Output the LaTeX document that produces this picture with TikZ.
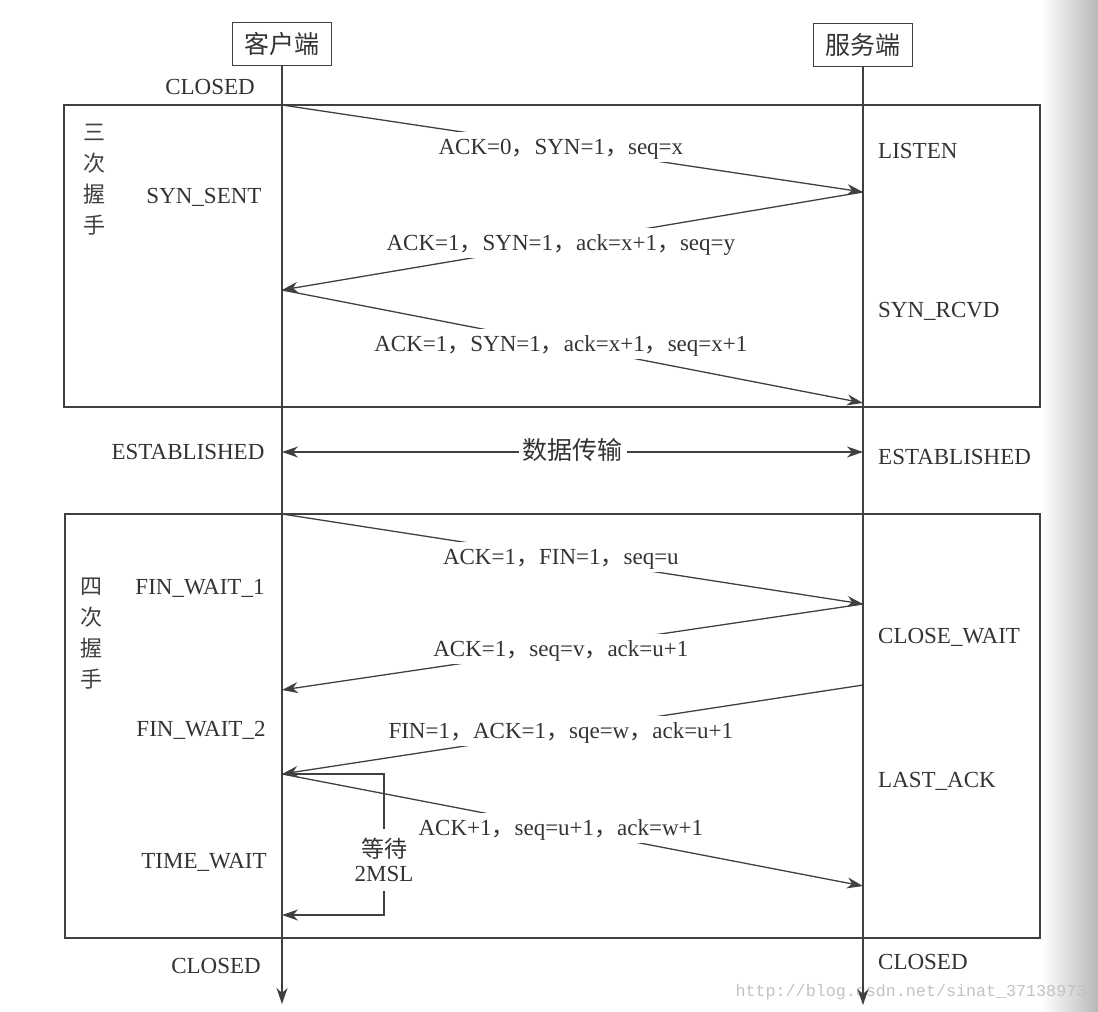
\documentclass[tikz,border=0pt]{standalone}
\usepackage{fontspec}
\setmainfont{Liberation Serif}
\setmonofont{Liberation Mono}
\newfontfamily\cjk{Noto Sans CJK SC}
\usetikzlibrary{arrows.meta, positioning, calc}
\tikzset{line/.style = {draw=black!75, line width=1.3pt}}
\tikzset{msg/.style = {
  % Line:
  line,
  ->,
  >={Stealth[length=16pt,width=11pt,inset=5pt]}
  }}
\tikzset{frame/.style = {draw=black!75, line width=1.3pt}}
\tikzset{party/.style = {
  % Rectangle:
  frame,
  minimum width=99pt, minimum height=43pt,
  % Text
  font=\cjk\fontsize{25}{30}\selectfont, text=black!80
  }}
\tikzset{state/.style = {
  inner sep=0pt,
  font=\fontsize{23}{28}\selectfont, text=black!80
  }}
\tikzset{lbl/.style = {
  % Rectangle:
  fill=white,
  inner xsep=2pt, inner ysep=4.5pt,
  % Text
  text height=18pt, text depth=3pt,
  font=\fontsize{23}{28}\selectfont, text=black!80
  }}
\tikzset{phase/.style = {
  align=center,
  font=\cjk\fontsize{22}{31}\selectfont, text=black!75
  }}
\newcommand{\zc}{{\cjk ，}}

\begin{document}
\begin{tikzpicture}[x=1pt, y=-1pt]
% BACKGROUND
\useasboundingbox (0,0) rectangle (1098,1012);
\shade [left color=white, right color=black!28] (1042,0) rectangle (1098,1012);
\node (mark) [font=\ttfamily\fontsize{16.7}{20}\selectfont, text=black!24] at (911,992) {http://blog.csdn.net/sinat\_37138973};

% NODES
\node (client) [party] at (282,44) {客户端};
\node (server) [party] at (863,45) {服务端};

% frames
\draw [frame] (64,105) rectangle (1040,407);
\draw [frame] (65,514) rectangle (1040,938);
\node (three) [phase] at (94,180) {三\\次\\握\\手};
\node (four) [phase] at (91,634) {四\\次\\握\\手};

% points on the lifelines
\coordinate (c1) at (282,105);
\coordinate (c2) at (282,290);
\coordinate (cEst) at (282,452);
\coordinate (c3) at (282,514);
\coordinate (c4) at (282,690);
\coordinate (c5) at (282,774);
\coordinate (c6) at (282,915);
\coordinate (cEnd) at (282,1004);
\coordinate (s1) at (863,192);
\coordinate (s2) at (863,403);
\coordinate (sEst) at (863,452);
\coordinate (s3) at (863,604);
\coordinate (s4) at (863,685);
\coordinate (s5) at (863,886);
\coordinate (sEnd) at (863,1005);

% lifelines
\draw [msg] (client) -- (cEnd);
\draw [msg] (server) -- (sEnd);

% states
\node (cClosed) [state] at (210,87) {CLOSED};
\node (synSent) [state] at (204,197) {SYN\_SENT};
\node (cEstab) [state] at (188,452) {ESTABLISHED};
\node (finWait1) [state] at (200,588) {FIN\_WAIT\_1};
\node (finWait2) [state] at (201,730) {FIN\_WAIT\_2};
\node (timeWait) [state] at (204,862) {TIME\_WAIT};
\node (cClosed2) [state] at (216,966) {CLOSED};

\node (listen) [state, anchor=west] at (878,151) {LISTEN};
\node (synRcvd) [state, anchor=west] at (878,311) {SYN\_RCVD};
\node (sEstab) [state, anchor=west] at (878,457) {ESTABLISHED};
\node (closeWait) [state, anchor=west] at (878,637) {CLOSE\_WAIT};
\node (lastAck) [state, anchor=west] at (878,781) {LAST\_ACK};
\node (sClosed) [state, anchor=west] at (878,962) {CLOSED};

% arrows
\draw [msg] (c1) -- node[lbl, pos=.48] {ACK=0\zc SYN=1\zc seq=x} (s1);
\draw [msg] (s1) -- node[lbl, pos=.52] {ACK=1\zc SYN=1\zc ack=x+1\zc seq=y} (c2);
\draw [msg] (c2) -- node[lbl, pos=.48] {ACK=1\zc SYN=1\zc ack=x+1\zc seq=x+1} (s2);

\draw [msg, <->] (cEst) -- node[lbl, inner xsep=4pt, font=\cjk\fontsize{25}{30}\selectfont] {数据传输} (sEst);

\draw [msg] (c3) -- node[lbl, pos=.48] {ACK=1\zc FIN=1\zc seq=u} (s3);
\draw [msg] (s3) -- node[lbl, pos=.52] {ACK=1\zc seq=v\zc ack=u+1} (c4);
\draw [msg] (s4) -- node[lbl, pos=.52] {FIN=1\zc ACK=1\zc sqe=w\zc ack=u+1} (c5);
\draw [msg] (c5) -- node[lbl, pos=.48] {ACK+1\zc seq=u+1\zc ack=w+1} (s5);

% wait 2MSL
\node (wait) [state, align=center, inner ysep=9pt, font=\fontsize{23}{24}\selectfont] at (384,860) {{\cjk 等待}\\2MSL};
\draw [line] (c5) -| (wait.north);
\draw [msg] (wait.south) |- (c6);
\end{tikzpicture}
\end{document}
